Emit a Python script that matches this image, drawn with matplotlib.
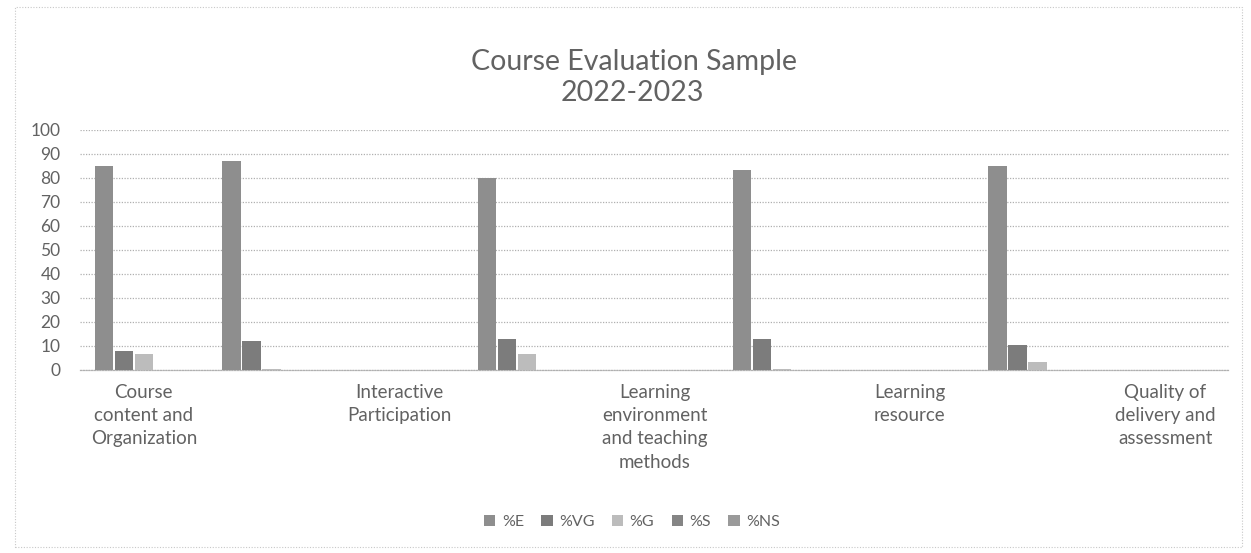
import numpy as np
import matplotlib
matplotlib.use("Agg")
import matplotlib.pyplot as plt
from matplotlib.patches import Rectangle

# ---- data ----
categories = ["Course\ncontent and\nOrganization", "",
              "Interactive\nParticipation", "",
              "Learning\nenvironment\nand teaching\nmethods", "",
              "Learning\nresource", "",
              "Quality of\ndelivery and\nassessment"]
series_names = ["%E", "%VG", "%G", "%S", "%NS"]
pct_E = [85.2, 87.0, np.nan, 80.0, np.nan, 83.5, np.nan, 85.0, np.nan]
pct_VG = [7.8, 12.0, np.nan, 12.9, np.nan, 13.0, np.nan, 10.6, np.nan]
pct_G = [6.8, 0.5, np.nan, 6.5, np.nan, 0.5, np.nan, 3.5, np.nan]
pct_S = [0, 0, np.nan, 0, np.nan, 0, np.nan, 0, np.nan]
pct_NS = [0, 0, np.nan, 0, np.nan, 0, np.nan, 0, np.nan]
y_ticks = [0, 10, 20, 30, 40, 50, 60, 70, 80, 90, 100]

series_values = [pct_E, pct_VG, pct_G, pct_S, pct_NS]
colors = ["#8e8e8e", "#7c7c7c", "#bcbcbc", "#858585", "#9a9a9a"]

plt.rcParams['font.family'] = ['Lato', 'DejaVu Sans']
text_color = "#626262"

fig = plt.figure(figsize=(12.51, 5.53), dpi=100)
fig.patch.set_facecolor("white")

# chart frame
fig.add_artist(Rectangle((15/1251, 1-547/553), (1242-15)/1251, (547-7)/553,
                         transform=fig.transFigure, fill=False,
                         edgecolor="#c8c8c8", linestyle=(0, (1, 1.5)), linewidth=0.8))

ax = fig.add_axes([80/1251, 1-370/553, (1229-80)/1251, (370-130)/553])
x = np.arange(len(categories))
slot = 0.157
bw = 0.143
for i, (name, vals, c) in enumerate(zip(series_names, series_values, colors)):
    ax.bar(x + (i - 2) * slot, vals, width=bw, color=c, label=name, zorder=3)

ax.set_xlim(-0.5, len(categories) - 0.5)
ax.set_ylim(0, 100)
ax.set_yticks(y_ticks)
ax.set_yticklabels([str(t) for t in y_ticks], fontsize=12.5, color=text_color)
ax.set_xticks(x[::2])
ax.set_xticklabels(categories[::2], fontsize=13.5, color=text_color, linespacing=1.45, va="top")
ax.tick_params(axis="both", length=0)
ax.tick_params(axis="x", pad=10)
ax.tick_params(axis="y", pad=14)
ax.grid(axis="y", color="#b0b0b0", linestyle=(0, (1, 1.2)), linewidth=0.9, zorder=0)
for s in ["top", "right", "left"]:
    ax.spines[s].set_visible(False)
ax.spines["bottom"].set_color("#b0b0b0")
ax.spines["bottom"].set_linestyle((0, (1, 1.2)))
ax.spines["bottom"].set_linewidth(0.9)
ax.set_facecolor("none")

fig.text(634/1251, 1-62/553, "Course Evaluation Sample", ha="center", va="center",
         fontsize=20.5, color=text_color)
fig.text(632/1251, 1-93/553, "2022-2023", ha="center", va="center",
         fontsize=20.5, color=text_color)

leg = fig.legend(loc="center", bbox_to_anchor=(632/1251, 1-522/553), ncol=5,
                 frameon=False, fontsize=11.5, handlelength=0.7, handleheight=0.7,
                 handletextpad=0.4, columnspacing=1.1, labelcolor=text_color)

fig.savefig("out.png", dpi=100)
